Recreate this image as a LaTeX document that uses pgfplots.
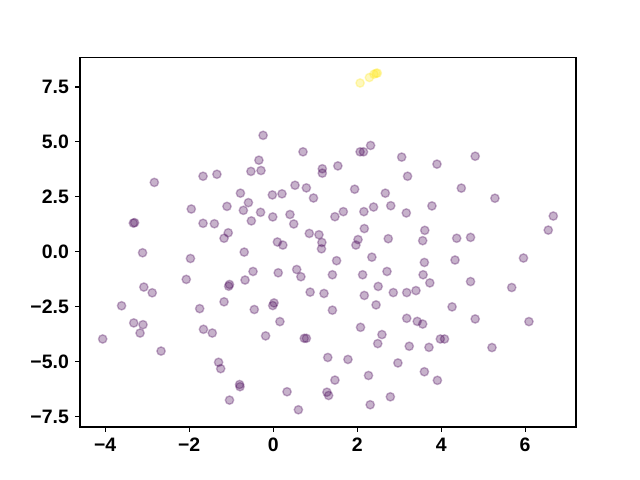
\documentclass[border=0pt]{standalone}
\usepackage{fontspec}
\setmainfont{Liberation Sans}
\usepackage{pgfplots}
\usepackage{pgfplotstable}
\pgfplotsset{compat=1.18}
\definecolor{vpurple}{HTML}{440154}
\definecolor{vyellow}{HTML}{FDE725}
\pgfplotstableread{
x y
-2.83 3.16
-1.67 3.44
-1.34 3.53
-0.24 5.30
-0.34 4.17
-0.53 3.66
-0.29 3.70
0.71 4.55
1.17 3.78
1.17 3.58
0.52 3.03
0.79 2.91
1.54 3.91
2.07 4.55
2.15 4.55
2.32 4.84
3.06 4.31
3.20 3.44
3.90 3.99
4.81 4.35
4.48 2.90
-1.95 1.95
-3.33 1.31
-3.30 1.33
-1.67 1.30
-3.11 -0.04
-1.97 -0.30
-2.07 -1.25
-3.08 -1.60
-2.88 -1.86
-3.61 -2.45
-1.75 -2.58
0.96 2.45
-0.78 2.67
-0.02 2.59
0.21 2.64
-0.59 2.24
-1.10 2.07
-0.71 1.89
-0.30 1.80
0.40 1.70
-0.01 1.59
-0.52 1.41
0.49 1.27
-1.40 1.28
-1.07 0.87
-1.17 0.62
0.86 0.84
1.09 0.78
1.16 0.43
1.15 0.14
0.10 0.45
0.23 0.31
-0.69 -0.01
-0.48 -0.89
0.12 -0.95
0.56 -0.80
0.66 -1.13
-0.67 -1.28
-1.04 -1.48
-1.06 -1.56
0.88 -1.83
1.21 -1.89
-1.17 -2.27
0.02 -2.32
-0.01 -2.44
-0.45 -2.62
1.94 2.85
2.67 2.67
1.67 1.83
1.47 1.60
2.16 1.83
2.39 2.04
2.80 2.10
3.17 1.77
3.78 2.09
2.17 1.06
2.02 0.56
1.97 0.31
2.74 0.60
3.61 0.98
3.56 0.51
1.51 -0.40
2.35 -0.24
3.60 -0.48
1.41 -1.04
2.13 -1.04
2.71 -0.89
3.57 -1.04
3.73 -1.41
2.50 -1.57
2.86 -1.85
3.18 -1.85
3.40 -1.76
2.17 -1.98
2.45 -2.41
1.41 -2.65
5.28 2.44
6.67 1.63
6.55 0.99
4.37 0.62
4.70 0.66
4.33 -0.37
5.96 -0.28
4.70 -1.35
5.68 -1.62
4.26 -2.50
-3.32 -3.23
-3.10 -3.31
-3.17 -3.69
-4.06 -3.96
-2.67 -4.51
-1.66 -3.52
-1.45 -3.69
0.16 -3.17
-0.18 -3.82
0.74 -3.93
0.79 -3.93
1.30 -4.80
-1.30 -5.02
-1.25 -5.31
-0.80 -6.03
-0.79 -6.13
-1.04 -6.74
0.33 -6.36
0.60 -7.18
1.28 -6.38
1.32 -6.53
2.08 -3.43
2.59 -3.76
2.49 -4.17
3.18 -3.02
3.43 -3.16
3.56 -3.28
3.98 -3.96
4.08 -3.96
3.24 -4.29
3.71 -4.34
1.78 -4.89
2.97 -5.05
3.60 -5.45
3.91 -5.84
1.47 -5.83
2.27 -5.62
2.79 -6.59
2.31 -6.95
4.81 -3.05
6.09 -3.17
5.21 -4.35
}\purpletable
\pgfplotstableread{
x y
2.07 7.68
2.29 7.93
2.40 8.08
2.45 8.12
2.48 8.13
}\yellowtable
\begin{document}
\begin{tikzpicture}
\useasboundingbox (-57.6pt,-38.2pt) rectangle (403.2pt,307.4pt);
\begin{axis}[
  scale only axis,
  width=357.1pt, height=265.7pt,
  at={(0pt,0pt)}, anchor=south west,
  xmin=-4.6, xmax=7.21,
  ymin=-7.96, ymax=8.82,
  axis line style={black, line width=0.8pt},
  tick style={black, line width=0.8pt},
  tick align=outside, tick pos=left,
  major tick length=3.5pt,
  xtick={-4,-2,0,2,4,6},
  xticklabels={−4,−2,0,2,4,6},
  ytick={-7.5,-5,-2.5,0,2.5,5,7.5},
  yticklabels={−7.5,−5.0,−2.5,0.0,2.5,5.0,7.5},
  ticklabel style={font=\fontsize{14}{16}\selectfont\bfseries},
  xticklabel style={yshift=-1pt},
  yticklabel style={xshift=-1pt},
  clip=false,
]
\addplot[only marks, mark=*, mark size=3pt,
  mark options={fill=vpurple, draw=vpurple, line width=1pt, fill opacity=0.3, draw opacity=0.3}]
  table[x=x,y=y] {\purpletable};
\addplot[only marks, mark=*, mark size=3pt,
  mark options={fill=vyellow, draw=vyellow, line width=1pt, fill opacity=0.3, draw opacity=0.3}]
  table[x=x,y=y] {\yellowtable};
\end{axis}
\end{tikzpicture}
\end{document}
